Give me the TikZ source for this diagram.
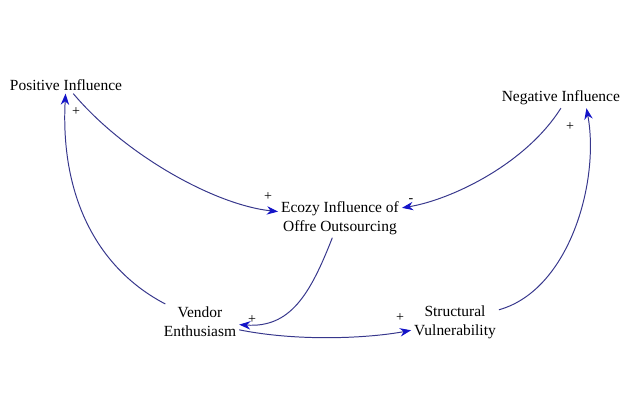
\documentclass[tikz,border=0pt]{standalone}
\usepackage{fontspec}
\setmainfont{Liberation Serif}
\usepackage{tikz}
\usetikzlibrary{arrows.meta}
\definecolor{linkcol}{RGB}{55,55,140}
\definecolor{tipcol}{RGB}{20,20,200}
\tikzset{
  var/.style={inner sep=2pt,align=center,font=\fontsize{11}{13.5}\selectfont},
  link/.style={draw=linkcol,line width=0.7pt,-{Stealth[length=8pt,width=6pt,color=tipcol]}},
  sgn/.style={inner sep=0pt,font=\fontsize{10}{12}\selectfont}
}
\begin{document}
\begin{tikzpicture}[x=0.025cm,y=-0.025cm]
\useasboundingbox (0,0) rectangle (624,407);
\node[var] (pos) at (66,85) {Positive Influence};
\node[var,anchor=east] (neg) at (623,98) {Negative Influence};
\node[var] (eco) at (340,218) {Ecozy Influence of\\Offre Outsourcing};
\node[var] (ven) at (200,322) {Vendor\\Enthusiasm};
\node[var] (str) at (455,322) {Structural\\Vulnerability};
% links
\draw[link] (pos) .. controls (125,155) and (215,205) .. (eco);
\draw[link] (neg.south) .. controls (525,165) and (450,200) .. (eco);
\draw[link] (eco) .. controls (310,295) and (290,328) .. (ven);
\draw[link] (ven) .. controls (100,270) and (60,200) .. (pos);
\draw[link] (ven) .. controls (300,342) and (370,338) .. (str);
\draw[link] (str) .. controls (570,290) and (600,180) .. ([xshift=-26pt]neg.south east);
% polarities
\node[sgn] (s1) at (268,197) {+};
\node[sgn] (s2) at (411,201) {-};
\node[sgn] (s3) at (252,320) {+};
\node[sgn] (s4) at (76,112) {+};
\node[sgn] (s5) at (400,318) {+};
\node[sgn] (s6) at (570,127) {+};
\end{tikzpicture}
\end{document}
